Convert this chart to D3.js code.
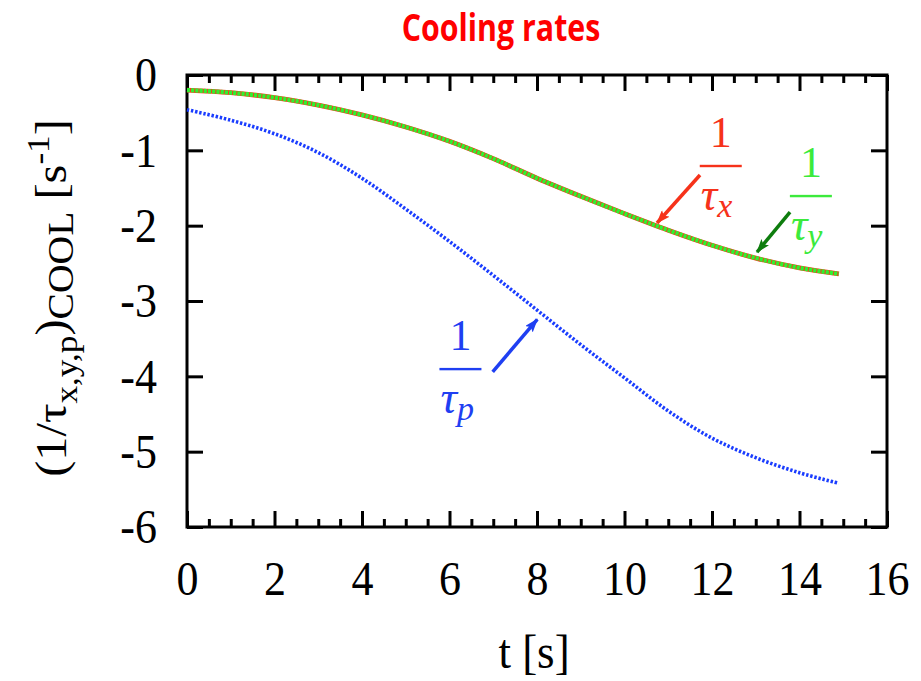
<!DOCTYPE html>
<html>
<head>
<meta charset="utf-8">
<script src="https://cdn.jsdelivr.net/npm/d3@7"></script>
<style>
  body { margin: 0; background: #fff; }
  svg { display: block; }
</style>
</head>
<body>
<svg id="chart" width="921" height="681"></svg>
<script>
// Time samples [s] and cooling rates [1/s]
const timeS    = [0, 1, 2, 3, 4, 5, 6, 7, 8, 9, 10, 11, 12, 13, 14, 14.9];
const rateTauX = [-0.20, -0.235, -0.30, -0.40, -0.53, -0.69, -0.88, -1.11, -1.37, -1.61, -1.84, -2.06, -2.26, -2.43, -2.56, -2.64];
const rateTauY = [-0.20, -0.235, -0.30, -0.40, -0.53, -0.69, -0.88, -1.11, -1.37, -1.61, -1.84, -2.06, -2.26, -2.43, -2.56, -2.64];
const rateTauP = [-0.46, -0.60, -0.78, -1.03, -1.37, -1.78, -2.21, -2.66, -3.12, -3.58, -4.02, -4.46, -4.82, -5.08, -5.28, -5.42];

const xTicks = [0, 2, 4, 6, 8, 10, 12, 14, 16];
const xMinorTicks = d3.range(0, 16.01, 0.5);
const yTicks = [0, -1, -2, -3, -4, -5, -6];

// Fraction labels 1/tau_i with their arrows, in data units
const labelNames  = ["x", "y", "p"];
const labelAt     = [[12.2, -1.208], [14.26, -1.607], [6.25, -3.904]];
const arrowFrom   = [[11.726, -1.328], [13.783, -1.819], [6.987, -3.94]];
const arrowTo     = [[10.743, -1.965], [13.029, -2.351], [8.007, -3.244]];
const labelColors = ["#f6321a", "#3cea3c", "#1f3ff2"];
const arrowColors = ["#f6321a", "#0e7d0e", "#1f3ff2"];

const svg = d3.select("#chart");
const serif = "'Liberation Serif', 'Times New Roman', serif";
const sy = 1.1; // vertical stretch of the serif lettering

const x = d3.scaleLinear().domain([0, 16]).range([187, 887]);
const y = d3.scaleLinear().domain([-6, 0]).range([527, 75]);

// Title
svg.append("g").attr("transform", "translate(501,41) scale(0.82,1)")
  .append("text")
  .attr("text-anchor", "middle")
  .attr("font-family", "'Open Sans', sans-serif")
  .attr("font-weight", "bold")
  .attr("font-size", 37)
  .attr("fill", "#ff0000")
  .text("Cooling rates");

// Axes with inward ticks on all four sides
function styleAxis(g) {
  g.select(".domain").remove();
  g.selectAll(".tick line").attr("stroke", "#000").attr("stroke-width", 3);
}

const bottom = svg.append("g").attr("transform", `translate(0,${y(-6)})`)
  .call(d3.axisBottom(x).tickValues(xTicks).tickSize(-16).tickFormat(d3.format("d")))
  .call(styleAxis);
bottom.selectAll(".tick text")
  .attr("font-family", serif).attr("font-size", 44).attr("fill", "#000")
  .attr("dy", 0).attr("y", 68 / sy)
  .attr("transform", `scale(1,${sy})`);

svg.append("g").attr("transform", `translate(0,${y(-6)})`)
  .call(d3.axisBottom(x).tickValues(xMinorTicks.filter(v => v % 2 !== 0)).tickSize(-8).tickFormat(""))
  .call(styleAxis);
svg.append("g").attr("transform", `translate(0,${y(0)})`)
  .call(d3.axisTop(x).tickValues(xTicks).tickSize(-16).tickFormat(""))
  .call(styleAxis);
svg.append("g").attr("transform", `translate(0,${y(0)})`)
  .call(d3.axisTop(x).tickValues(xMinorTicks.filter(v => v % 2 !== 0)).tickSize(-8).tickFormat(""))
  .call(styleAxis);

const left = svg.append("g").attr("transform", `translate(${x(0)},0)`)
  .call(d3.axisLeft(y).tickValues(yTicks).tickSize(-16).tickPadding(30).tickFormat(d3.format("d")))
  .call(styleAxis);
left.selectAll(".tick text")
  .attr("font-family", serif).attr("font-size", 44).attr("fill", "#000")
  .attr("dy", "0.33em")
  .attr("transform", `scale(1,${sy})`)
  .text(d => d === 0 ? "0" : String(d).replace("\u2212", "-"));

svg.append("g").attr("transform", `translate(${x(16)},0)`)
  .call(d3.axisRight(y).tickValues(yTicks).tickSize(-16).tickFormat(""))
  .call(styleAxis);

// Frame
svg.append("rect")
  .attr("x", x(0)).attr("y", y(0))
  .attr("width", x(16) - x(0)).attr("height", y(-6) - y(0))
  .attr("fill", "none").attr("stroke", "#000").attr("stroke-width", 3);

// Axis titles
svg.append("g").attr("transform", `translate(534,668) scale(1,${sy})`)
  .append("text")
  .attr("text-anchor", "middle")
  .attr("font-family", serif).attr("font-size", 45).attr("fill", "#000")
  .text("t [s]");

const yTitle = svg.append("g").attr("transform", `translate(66,298) scale(1,${sy}) rotate(-90)`)
  .append("text")
  .attr("text-anchor", "middle")
  .attr("font-family", serif).attr("font-size", 44).attr("fill", "#000");
yTitle.append("tspan").text("(1/\u03C4");
yTitle.append("tspan").attr("dy", 11).attr("font-size", 32).text("x,y,p");
yTitle.append("tspan").attr("dy", -11).text(")");
yTitle.append("tspan").attr("dy", 7).attr("font-size", 36).text("COOL");
yTitle.append("tspan").attr("dy", -7).text(" [s");
yTitle.append("tspan").attr("dy", -17).attr("font-size", 32).text("-1");
yTitle.append("tspan").attr("dy", 17).text("]");

// Curves
const series = (vals) => timeS.map((t, i) => [t, vals[i]]);
const line = d3.line().x(d => x(d[0])).y(d => y(d[1])).curve(d3.curveCatmullRom.alpha(0.5));

svg.append("path").datum(series(rateTauP))
  .attr("d", line).attr("fill", "none")
  .attr("stroke", "#1a3dff").attr("stroke-width", 3.6)
  .attr("stroke-dasharray", "2.4,1.8");

svg.append("path").datum(series(rateTauX))
  .attr("d", line).attr("fill", "none")
  .attr("stroke", "#f23c1c").attr("stroke-width", 4.8);

svg.append("path").datum(series(rateTauY))
  .attr("d", line).attr("fill", "none")
  .attr("stroke", "#30f030").attr("stroke-width", 4.2)
  .attr("stroke-dasharray", "3.2,1");

// Arrow heads
const defs = svg.append("defs");
arrowColors.forEach((c, i) => {
  defs.append("marker")
    .attr("id", "head" + i)
    .attr("viewBox", "0 0 14 10")
    .attr("refX", 13).attr("refY", 5)
    .attr("markerUnits", "userSpaceOnUse")
    .attr("markerWidth", 14).attr("markerHeight", 10)
    .attr("orient", "auto")
    .append("path").attr("d", "M0,0 L14,5 L0,10 L3,5 Z").attr("fill", c);
});

labelNames.forEach((name, i) => {
  svg.append("line")
    .attr("x1", x(arrowFrom[i][0])).attr("y1", y(arrowFrom[i][1]))
    .attr("x2", x(arrowTo[i][0])).attr("y2", y(arrowTo[i][1]))
    .attr("stroke", arrowColors[i]).attr("stroke-width", 3.5)
    .attr("marker-end", `url(#head${i})`);

  const cx = x(labelAt[i][0]), cy = y(labelAt[i][1]);
  const g = svg.append("g").attr("transform", `translate(${cx},${cy})`).attr("fill", labelColors[i]);
  g.append("text").attr("x", 0).attr("y", -19)
    .attr("text-anchor", "middle")
    .attr("font-family", serif).attr("font-size", 44)
    .text("1");
  g.append("rect").attr("x", -21).attr("y", -1.2).attr("width", 42).attr("height", 2.4);
  const den = g.append("text").attr("x", -20).attr("y", 44)
    .attr("font-family", serif).attr("font-style", "italic").attr("font-size", 46);
  den.append("tspan").text("\u03C4");
  den.append("tspan").attr("dy", 7).attr("font-size", 34).text(name);
});
</script>
</body>
</html>
